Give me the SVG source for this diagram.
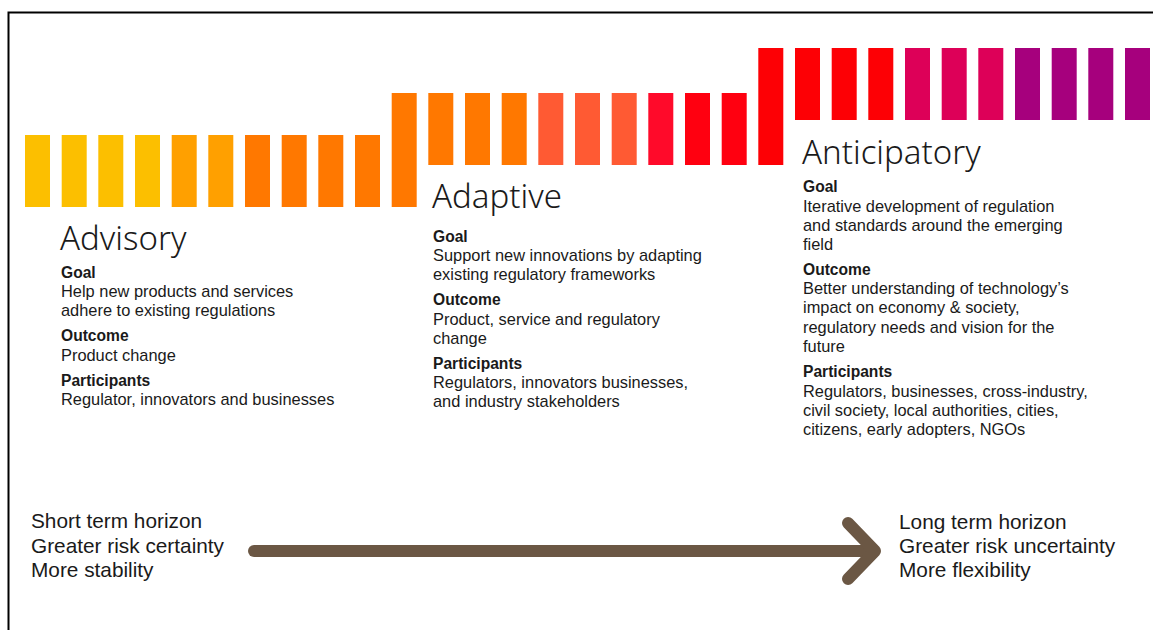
<svg xmlns="http://www.w3.org/2000/svg" width="1153" height="630" viewBox="0 0 1153 630">
<style>
text{font-family:"Liberation Sans",Arial,sans-serif;fill:#1a1a1a}
.t{font-family:"Noto Sans","Liberation Sans",sans-serif;font-size:33px;font-weight:300}
.h{font-size:15.6px;font-weight:700}
.b{font-size:16.4px}
.s{font-size:20.8px}
.c1{fill:#FCBF00}.c2{fill:#FFA000}.c3{fill:#FF7800}.c4{fill:#FF5A33}.c5{fill:#FF0A2A}.c6{fill:#FF0010}.c7{fill:#FD0005}.c8{fill:#DD0058}.c9{fill:#A6007D}
</style>
<rect width="1153" height="630" fill="#fff"/>
<path d="M8.5,630 V12.5 H1153" fill="none" stroke="#000" stroke-width="2"/>
<g id="bars">
<rect class="c1" x="25" y="135" width="25" height="72"/>
<rect class="c1" x="61.7" y="135" width="25" height="72"/>
<rect class="c1" x="98.3" y="135" width="25" height="72"/>
<rect class="c1" x="135" y="135" width="25" height="72"/>
<rect class="c2" x="171.7" y="135" width="25" height="72"/>
<rect class="c2" x="208.3" y="135" width="25" height="72"/>
<rect class="c3" x="245" y="135" width="25" height="72"/>
<rect class="c3" x="281.7" y="135" width="25" height="72"/>
<rect class="c3" x="318.3" y="135" width="25" height="72"/>
<rect class="c3" x="355" y="135" width="25" height="72"/>
<rect class="c3" x="391.7" y="93" width="25" height="114"/>
<rect class="c3" x="428.3" y="93" width="25" height="72"/>
<rect class="c3" x="465" y="93" width="25" height="72"/>
<rect class="c3" x="501.7" y="93" width="25" height="72"/>
<rect class="c4" x="538.3" y="93" width="25" height="72"/>
<rect class="c4" x="575" y="93" width="25" height="72"/>
<rect class="c4" x="611.7" y="93" width="25" height="72"/>
<rect class="c5" x="648.3" y="93" width="25" height="72"/>
<rect class="c6" x="685" y="93" width="25" height="72"/>
<rect class="c6" x="721.7" y="93" width="25" height="72"/>
<rect class="c7" x="758.3" y="48" width="25" height="117"/>
<rect class="c7" x="795" y="48" width="25" height="72"/>
<rect class="c7" x="831.7" y="48" width="25" height="72"/>
<rect class="c7" x="868.3" y="48" width="25" height="72"/>
<rect class="c8" x="905" y="48" width="25" height="72"/>
<rect class="c8" x="941.7" y="48" width="25" height="72"/>
<rect class="c8" x="978.3" y="48" width="25" height="72"/>
<rect class="c9" x="1015" y="48" width="25" height="72"/>
<rect class="c9" x="1051.7" y="48" width="25" height="72"/>
<rect class="c9" x="1088.3" y="48" width="25" height="72"/>
<rect class="c9" x="1125" y="48" width="25" height="72"/>
</g>
<g id="advisory">
<text class="t" x="60" y="250">Advisory</text>
<text class="h" x="61" y="278">Goal</text>
<text class="b" x="61" y="297">Help new products and services</text>
<text class="b" x="61" y="316">adhere to existing regulations</text>
<text class="h" x="61" y="341">Outcome</text>
<text class="b" x="61" y="361">Product change</text>
<text class="h" x="61" y="386">Participants</text>
<text class="b" x="61" y="405">Regulator, innovators and businesses</text>
</g>
<g id="adaptive">
<text class="t" x="432" y="208">Adaptive</text>
<text class="h" x="433" y="242">Goal</text>
<text class="b" x="433" y="261">Support new innovations by adapting</text>
<text class="b" x="433" y="280">existing regulatory frameworks</text>
<text class="h" x="433" y="305">Outcome</text>
<text class="b" x="433" y="325">Product, service and regulatory</text>
<text class="b" x="433" y="344">change</text>
<text class="h" x="433" y="369">Participants</text>
<text class="b" x="433" y="388">Regulators, innovators businesses,</text>
<text class="b" x="433" y="407">and industry stakeholders</text>
</g>
<g id="anticipatory">
<text class="t" x="802" y="164">Anticipatory</text>
<text class="h" x="803" y="192">Goal</text>
<text class="b" x="803" y="212">Iterative development of regulation</text>
<text class="b" x="803" y="231">and standards around the emerging</text>
<text class="b" x="803" y="250">field</text>
<text class="h" x="803" y="275">Outcome</text>
<text class="b" x="803" y="294">Better understanding of technology’s</text>
<text class="b" x="803" y="313">impact on economy &amp; society,</text>
<text class="b" x="803" y="333">regulatory needs and vision for the</text>
<text class="b" x="803" y="352">future</text>
<text class="h" x="803" y="377">Participants</text>
<text class="b" x="803" y="397">Regulators, businesses, cross-industry,</text>
<text class="b" x="803" y="416">civil society, local authorities, cities,</text>
<text class="b" x="803" y="435">citizens, early adopters, NGOs</text>
</g>
<g id="left-label">
<text class="s" x="31" y="528">Short term horizon</text>
<text class="s" x="31" y="553">Greater risk certainty</text>
<text class="s" x="31" y="577">More stability</text>
</g>
<g id="right-label">
<text class="s" x="899" y="529">Long term horizon</text>
<text class="s" x="899" y="553">Greater risk uncertainty</text>
<text class="s" x="899" y="577">More flexibility</text>
</g>
<g id="connectors" fill="none" stroke="#6B5744" stroke-width="12" stroke-linecap="round" stroke-linejoin="round">
<path d="M254,551 H870"/>
<path d="M848,523 L875,551 L848,579"/>
</g>
</svg>
